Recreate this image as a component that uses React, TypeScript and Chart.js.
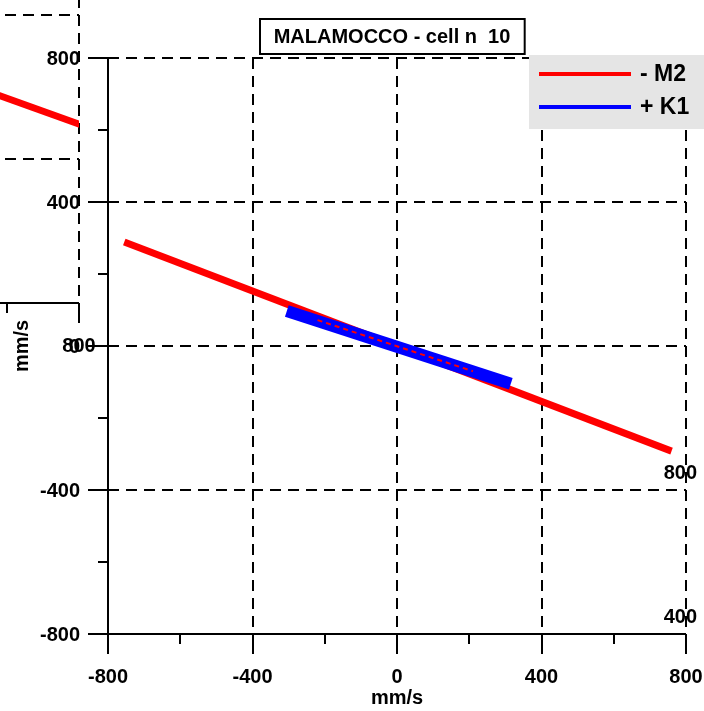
import React, { useEffect, useRef } from "react";
import { Chart, registerables } from "chart.js";

Chart.register(...registerables);

// ---------- data ----------
const AXIS_MIN = -800;
const AXIS_MAX = 800;
const MAJOR_TICKS = [-800, -400, 0, 400, 800];
const MINOR_TICKS = [-600, -200, 200, 600];
const TICK_LABELS = ["-800", "-400", "0", "400", "800"];
const TITLE = "MALAMOCCO - cell n  10";
const AXIS_TITLE = "mm/s";
const SERIES_LABELS = ["- M2", "+ K1"];
const SERIES_COLORS = ["#ff0000", "#0000ff"];

// cell 10 (main panel)
const M2_POINTS = [
  { x: -755, y: 289 },
  { x: 760, y: -292 },
];
const K1_POINTS = [
  { x: -305, y: 97 },
  { x: 315, y: -105 },
];
const M2_CORE_POINTS = [
  { x: -220, y: 72 },
  { x: 210, y: -70 },
];

// neighbouring panel (only a corner of it shows, top-left)
const NEIGHBOUR_M2_POINTS = [
  { x: -805, y: 275 },
  { x: 805, y: -305 },
];
const NEIGHBOUR_K1_POINTS: { x: number; y: number }[] = [];
const NEIGHBOUR_CORE_POINTS: { x: number; y: number }[] = [];

const FONT = '"Liberation Sans", Arial, sans-serif';

const decorPlugin = {
  id: "panelDecor",
  beforeDatasetsDraw(chart: any) {
    const { ctx, chartArea } = chart;
    const xs = chart.scales.x;
    const ys = chart.scales.y;
    const { left, right, top, bottom } = chartArea;
    ctx.save();
    ctx.strokeStyle = "#000";
    ctx.lineWidth = 2;
    ctx.setLineDash([11, 7]);
    ctx.beginPath();
    for (const v of MAJOR_TICKS) {
      if (v <= AXIS_MIN) continue;
      const x = Math.round(xs.getPixelForValue(v));
      ctx.moveTo(x, top);
      ctx.lineTo(x, bottom);
      const y = Math.round(ys.getPixelForValue(v));
      ctx.moveTo(left, y);
      ctx.lineTo(right, y);
    }
    ctx.stroke();
    ctx.restore();
  },
  afterDatasetsDraw(chart: any) {
    const { ctx, chartArea } = chart;
    const xs = chart.scales.x;
    const ys = chart.scales.y;
    const { left, right, top, bottom } = chartArea;
    const L = Math.round(left);
    const B = Math.round(bottom);
    ctx.save();
    ctx.setLineDash([]);
    ctx.strokeStyle = "#000";
    ctx.fillStyle = "#000";
    ctx.lineWidth = 2;
    ctx.beginPath();
    // axes
    ctx.moveTo(L, Math.round(top));
    ctx.lineTo(L, B);
    ctx.moveTo(L, B);
    ctx.lineTo(Math.round(right), B);
    // ticks
    for (const v of MAJOR_TICKS) {
      const x = Math.round(xs.getPixelForValue(v));
      ctx.moveTo(x, B);
      ctx.lineTo(x, B + 20);
      const y = Math.round(ys.getPixelForValue(v));
      ctx.moveTo(L - 20, y);
      ctx.lineTo(L, y);
    }
    for (const v of MINOR_TICKS) {
      const x = Math.round(xs.getPixelForValue(v));
      ctx.moveTo(x, B);
      ctx.lineTo(x, B + 10);
      const y = Math.round(ys.getPixelForValue(v));
      ctx.moveTo(L - 10, y);
      ctx.lineTo(L, y);
    }
    ctx.stroke();

    // tick labels
    ctx.font = `bold 20px ${FONT}`;
    ctx.textBaseline = "middle";
    MAJOR_TICKS.forEach((v, i) => {
      const x = xs.getPixelForValue(v);
      ctx.textAlign = "center";
      ctx.fillText(TICK_LABELS[i], x, B + 43);
      const y = ys.getPixelForValue(v);
      ctx.textAlign = "right";
      ctx.fillText(TICK_LABELS[i], L - 28, y + 1);
    });

    // axis titles
    ctx.textAlign = "center";
    ctx.textBaseline = "alphabetic";
    ctx.fillText(AXIS_TITLE, (left + right) / 2, B + 70);
    ctx.save();
    ctx.translate(L - 80, (top + bottom) / 2);
    ctx.rotate(-Math.PI / 2);
    ctx.fillText(AXIS_TITLE, 0, 0);
    ctx.restore();

    // title box
    ctx.font = `bold 20px ${FONT}`;
    const tw = ctx.measureText(TITLE).width;
    const cx = (left + right) / 2 - 5;
    const bw = tw + 28;
    const bx = Math.round(cx - bw / 2);
    const by = Math.round(top) - 39;
    ctx.fillStyle = "#fff";
    ctx.fillRect(bx, by, bw, 35);
    ctx.strokeRect(bx, by, bw, 35);
    ctx.fillStyle = "#000";
    ctx.textBaseline = "middle";
    ctx.fillText(TITLE, cx, by + 18);

    // legend
    const R = Math.round(right);
    const T = Math.round(top);
    ctx.fillStyle = "#e5e5e5";
    ctx.fillRect(R - 157, T - 3, 175, 74);
    ctx.font = `bold 23px ${FONT}`;
    ctx.textAlign = "left";
    ctx.lineWidth = 4;
    SERIES_LABELS.forEach((lab, i) => {
      const yy = T + 16 + i * 33;
      ctx.strokeStyle = SERIES_COLORS[i];
      ctx.beginPath();
      ctx.moveTo(R - 147, yy);
      ctx.lineTo(R - 55, yy);
      ctx.stroke();
      ctx.fillStyle = "#000";
      ctx.fillText(lab, R - 46, yy + 1);
    });
    ctx.restore();
  },
};

type Pt = { x: number; y: number };

function Panel(props: { m2: Pt[]; k1: Pt[]; core: Pt[]; left: number; top: number }) {
  const ref = useRef<HTMLCanvasElement>(null);
  useEffect(() => {
    if (!ref.current) return;
    const chart = new Chart(ref.current, {
      type: "scatter",
      data: {
        datasets: [
          {
            label: "core",
            data: props.core,
            showLine: true,
            borderColor: SERIES_COLORS[0],
            borderWidth: 2,
            borderDash: [5, 4],
            pointRadius: 0,
            order: 0,
          },
          {
            label: SERIES_LABELS[1],
            data: props.k1,
            showLine: true,
            borderColor: SERIES_COLORS[1],
            borderWidth: 12,
            pointRadius: 0,
            order: 1,
          },
          {
            label: SERIES_LABELS[0],
            data: props.m2,
            showLine: true,
            borderColor: SERIES_COLORS[0],
            borderWidth: 7,
            pointRadius: 0,
            order: 2,
          },
        ],
      },
      options: {
        responsive: false,
        animation: false,
        devicePixelRatio: 1,
        layout: { padding: { left: 108, right: 18, top: 58, bottom: 77 } },
        scales: {
          x: { type: "linear", min: AXIS_MIN, max: AXIS_MAX, display: false },
          y: { type: "linear", min: AXIS_MIN, max: AXIS_MAX, display: false },
        },
        plugins: {
          legend: { display: false },
          title: { display: false },
          tooltip: { enabled: false },
        },
        events: [],
      },
      plugins: [decorPlugin],
    } as any);
    return () => chart.destroy();
  }, []);
  return (
    <canvas
      ref={ref}
      width={704}
      height={711}
      style={{ position: "absolute", left: props.left, top: props.top }}
    />
  );
}

export default function App() {
  return (
    <div
      style={{
        position: "fixed",
        left: 0,
        top: 0,
        width: 704,
        height: 711,
        overflow: "hidden",
        background: "#fff",
      }}
    >
      <Panel m2={M2_POINTS} k1={K1_POINTS} core={M2_CORE_POINTS} left={0} top={0} />
      <Panel
        m2={NEIGHBOUR_M2_POINTS}
        k1={NEIGHBOUR_K1_POINTS}
        core={NEIGHBOUR_CORE_POINTS}
        left={-607}
        top={-331}
      />
      <Panel m2={M2_POINTS} k1={K1_POINTS} core={M2_CORE_POINTS} left={617} top={414} />
    </div>
  );
}
